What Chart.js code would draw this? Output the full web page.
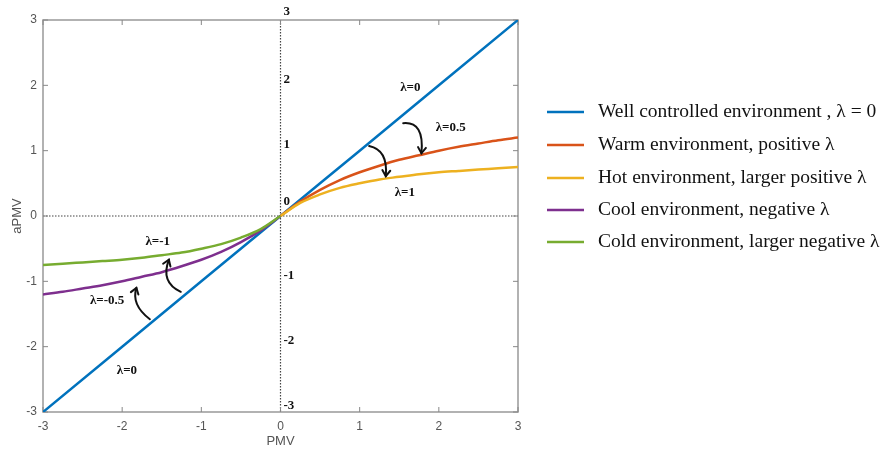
<!DOCTYPE html>
<html>
<head>
<meta charset="utf-8">
<script src="https://cdn.jsdelivr.net/npm/chart.js@4.4.0/dist/chart.umd.min.js"></script>
<style>
html, body { margin: 0; padding: 0; background: #fff; }
</style>
</head>
<body>
<canvas id="myChart" width="885" height="450"></canvas>
<script>
'use strict';

// PMV values (x) for each curve
let pmvLine = [-3, -2, -1, 0, 1, 2, 3];
let pmvPos = [0, 0.25, 0.5, 0.75, 1, 1.25, 1.5, 1.75, 2, 2.25, 2.5, 2.75, 3];
let pmvNeg = [-3, -2.75, -2.5, -2.25, -2, -1.75, -1.5, -1.25, -1, -0.75, -0.5, -0.25, 0];

// aPMV values
let wellValues = [-3, -2, -1, 0, 1, 2, 3];
let warmValues = [0, 0.22, 0.40, 0.55, 0.67, 0.77, 0.86, 0.93, 1.00, 1.06, 1.11, 1.16, 1.20];
let hotValues = [0, 0.20, 0.33, 0.43, 0.50, 0.56, 0.60, 0.64, 0.67, 0.69, 0.71, 0.73, 0.75];
let coolValues = [-1.20, -1.16, -1.11, -1.06, -1.00, -0.93, -0.86, -0.77, -0.67, -0.55, -0.40, -0.22, 0];
let coldValues = [-0.75, -0.73, -0.71, -0.69, -0.67, -0.64, -0.60, -0.56, -0.50, -0.43, -0.33, -0.20, 0];

let seriesNames = [
    'Well controlled environment , \u03bb = 0',
    'Warm environment, positive \u03bb',
    'Hot environment, larger positive \u03bb',
    'Cool environment, negative \u03bb',
    'Cold environment, larger negative \u03bb'
];
let seriesColors = ['#0072BD', '#D95319', '#EDB120', '#7E2F8E', '#77AC30'];

let tickValues = [-3, -2, -1, 0, 1, 2, 3];
let innerLabels = ['3', '2', '1', '0', '-1', '-2', '-3'];

// lambda annotations (data coords)
let lambdaText = ['\u03bb=0', '\u03bb=0.5', '\u03bb=1', '\u03bb=-1', '\u03bb=-0.5', '\u03bb=0'];
let lambdaX = [1.64, 2.15, 1.57, -1.55, -2.19, -1.94];
let lambdaY = [1.96, 1.36, 0.35, -0.40, -1.29, -2.36];

// curved arrows: start, control, end (data coords)
let arrows = [
    [[1.55, 1.42], [1.82, 1.45], [1.78, 0.96]],
    [[1.12, 1.07], [1.36, 1.01], [1.33, 0.61]],
    [[-1.26, -1.16], [-1.52, -1.01], [-1.41, -0.67]],
    [[-1.65, -1.58], [-1.89, -1.36], [-1.82, -1.10]]
];

function toPoints(xs, ys) {
    let pts = [];
    for (let i = 0; i < xs.length; i++) {
        pts.push({ x: xs[i], y: ys[i] });
    }
    return pts;
}

let seriesData = [
    toPoints(pmvLine, wellValues),
    toPoints(pmvPos, warmValues),
    toPoints(pmvPos, hotValues),
    toPoints(pmvNeg, coolValues),
    toPoints(pmvNeg, coldValues)
];

let datasets = [];
for (let i = seriesData.length - 1; i >= 0; i--) {
    datasets.push({
        label: seriesNames[i],
        data: seriesData[i],
        borderColor: seriesColors[i],
        borderWidth: 2.5,
        pointRadius: 0,
        cubicInterpolationMode: 'monotone',
        fill: false
    });
}

const extras = {
    id: 'extras',
    beforeDatasetsDraw(chart) {
        const ctx = chart.ctx;
        const a = chart.chartArea;
        const xs = chart.scales.x;
        const ys = chart.scales.y;
        ctx.save();
        // dotted zero lines
        ctx.strokeStyle = '#444';
        ctx.lineWidth = 1.2;
        ctx.setLineDash([1.5, 1.5]);
        ctx.beginPath();
        ctx.moveTo(a.left, ys.getPixelForValue(0));
        ctx.lineTo(a.right, ys.getPixelForValue(0));
        ctx.moveTo(xs.getPixelForValue(0), a.top);
        ctx.lineTo(xs.getPixelForValue(0), a.bottom);
        ctx.stroke();
        ctx.setLineDash([]);
        // frame
        ctx.strokeStyle = '#999';
        ctx.lineWidth = 1.5;
        ctx.strokeRect(a.left, a.top, a.right - a.left, a.bottom - a.top);
        // inward ticks
        ctx.lineWidth = 1;
        ctx.strokeStyle = '#888';
        ctx.beginPath();
        for (let v of tickValues) {
            let px = xs.getPixelForValue(v);
            let py = ys.getPixelForValue(v);
            ctx.moveTo(px, a.bottom); ctx.lineTo(px, a.bottom - 5);
            ctx.moveTo(px, a.top); ctx.lineTo(px, a.top + 5);
            ctx.moveTo(a.left, py); ctx.lineTo(a.left + 5, py);
            ctx.moveTo(a.right, py); ctx.lineTo(a.right - 5, py);
        }
        ctx.stroke();
        ctx.restore();
    },
    afterDatasetsDraw(chart) {
        const ctx = chart.ctx;
        const a = chart.chartArea;
        const xs = chart.scales.x;
        const ys = chart.scales.y;
        ctx.save();

        // bold labels along the x=0 line
        ctx.fillStyle = '#111';
        ctx.font = 'bold 13px "Liberation Serif", serif';
        ctx.textAlign = 'left';
        ctx.textBaseline = 'middle';
        let x0 = xs.getPixelForValue(0);
        for (let i = 0; i < innerLabels.length; i++) {
            let v = tickValues[tickValues.length - 1 - i];
            let off = v === 0 ? 14 : (v === 3 ? 8 : 6);
            ctx.fillText(innerLabels[i], x0 + 3, ys.getPixelForValue(v) - off);
        }

        // lambda labels
        ctx.textAlign = 'center';
        for (let i = 0; i < lambdaText.length; i++) {
            ctx.fillText(lambdaText[i], xs.getPixelForValue(lambdaX[i]), ys.getPixelForValue(lambdaY[i]));
        }

        // curved arrows
        ctx.strokeStyle = '#111';
        ctx.lineWidth = 2;
        ctx.lineCap = 'round';
        for (let arr of arrows) {
            let s = [xs.getPixelForValue(arr[0][0]), ys.getPixelForValue(arr[0][1])];
            let c = [xs.getPixelForValue(arr[1][0]), ys.getPixelForValue(arr[1][1])];
            let e = [xs.getPixelForValue(arr[2][0]), ys.getPixelForValue(arr[2][1])];
            ctx.beginPath();
            ctx.moveTo(s[0], s[1]);
            ctx.quadraticCurveTo(c[0], c[1], e[0], e[1]);
            ctx.stroke();
            let ang = Math.atan2(e[1] - c[1], e[0] - c[0]);
            ctx.beginPath();
            ctx.moveTo(e[0] - 7 * Math.cos(ang - 0.6), e[1] - 7 * Math.sin(ang - 0.6));
            ctx.lineTo(e[0], e[1]);
            ctx.lineTo(e[0] - 7 * Math.cos(ang + 0.6), e[1] - 7 * Math.sin(ang + 0.6));
            ctx.stroke();
        }

        // axis titles
        ctx.fillStyle = '#555';
        ctx.font = '13px "Liberation Sans", Arial, sans-serif';
        ctx.textAlign = 'center';
        ctx.fillText('PMV', (a.left + a.right) / 2 + 0, 441);
        ctx.save();
        ctx.translate(17, (a.top + a.bottom) / 2);
        ctx.rotate(-Math.PI / 2);
        ctx.fillText('aPMV', 0, 0);
        ctx.restore();

        // legend
        let rowY = [112, 145, 178, 210, 242];
        ctx.font = '19.5px "Liberation Serif", "Times New Roman", serif';
        ctx.textAlign = 'left';
        ctx.fillStyle = '#111';
        ctx.lineWidth = 2.5;
        ctx.lineCap = 'butt';
        for (let i = 0; i < seriesNames.length; i++) {
            ctx.strokeStyle = seriesColors[i];
            ctx.beginPath();
            ctx.moveTo(547, rowY[i]);
            ctx.lineTo(584, rowY[i]);
            ctx.stroke();
            ctx.fillText(seriesNames[i], 598, rowY[i]);
        }
        ctx.restore();
    }
};

const config = {
    type: 'line',
    data: { datasets: datasets },
    options: {
        responsive: false,
        animation: false,
        layout: { padding: { left: 0, right: 367, top: 20, bottom: 0 } },
        plugins: {
            legend: { display: false },
            tooltip: { enabled: false }
        },
        scales: {
            x: {
                type: 'linear',
                min: -3,
                max: 3,
                afterFit(s) { s.height = 38; },
                grid: { display: false, drawTicks: false },
                border: { display: false },
                ticks: {
                    stepSize: 1,
                    padding: 7,
                    color: '#555',
                    font: { size: 12, family: '"Liberation Sans", Arial, sans-serif' }
                }
            },
            y: {
                type: 'linear',
                min: -3,
                max: 3,
                afterFit(s) { s.width = 43; },
                grid: { display: false, drawTicks: false },
                border: { display: false },
                ticks: {
                    stepSize: 1,
                    padding: 6,
                    color: '#555',
                    font: { size: 12, family: '"Liberation Sans", Arial, sans-serif' }
                }
            }
        }
    },
    plugins: [extras]
};

var myChart = new Chart(document.getElementById('myChart'), config);
</script>
</body>
</html>
